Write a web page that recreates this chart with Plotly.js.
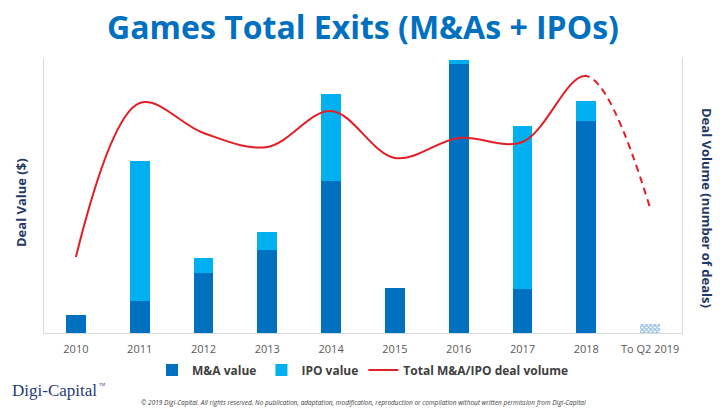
<!DOCTYPE html>
<html>
<head>
<meta charset="utf-8">
<script src="https://cdn.plot.ly/plotly-3.0.1.min.js"></script>
<style>
  html, body { margin: 0; padding: 0; background: #ffffff; }
  #chart { width: 726px; height: 409px; }
</style>
</head>
<body>
<div id="chart"></div>
<script>
// ---- data ----
var categories = ['2010', '2011', '2012', '2013', '2014', '2015', '2016', '2017', '2018', 'To Q2 2019'];
// deal value ($B, estimated)
var maValue  = [1.8, 3.2, 6.0, 8.3, 15.2, 4.5, 26.9, 4.4, 21.2, 0.9];
var ipoValue = [0,   14.0, 1.5, 1.8, 8.7,  0,   0.4, 16.3, 2.0, 0];
// total M&A/IPO deal volume (number of deals, estimated)
var dealVolume = [76, 230, 200, 186, 222, 175, 195, 191, 257, 125];
// the last (partial-year) period is drawn hatched / dashed
var partialCategory = 'To Q2 2019';
var dashFromCategory = '2018';

var seriesNames = ['M&A value', 'IPO value', 'Total M&A/IPO deal volume'];

// ---- styling ----
var C_MA = '#0070c0', C_IPO = '#00b0f0', C_LINE = '#e21f26';
var FONT = 'Open Sans, Noto Sans, sans-serif';

var patternShapes = categories.map(function (c) { return c === partialCategory ? 'x' : ''; });
var maColors = categories.map(function (c) { return c === partialCategory ? '#7fb0dc' : C_MA; });

var data = [
  {
    type: 'bar', name: seriesNames[0], x: categories, y: maValue,
    marker: {
      color: maColors, line: { width: 0 },
      pattern: { shape: patternShapes, fgcolor: '#3a80c4', bgcolor: '#8dbbe4', size: 3, solidity: 0.5 }
    },
    hoverinfo: 'skip'
  },
  {
    type: 'bar', name: seriesNames[1], x: categories, y: ipoValue,
    marker: { color: C_IPO, line: { width: 0 } },
    hoverinfo: 'skip'
  },
  {
    type: 'scatter', mode: 'lines', name: seriesNames[2], x: categories, y: dealVolume,
    yaxis: 'y2',
    line: { color: C_LINE, width: 2, shape: 'spline', smoothing: 1 },
    cliponaxis: false, hoverinfo: 'skip'
  }
];

var layout = {
  width: 726, height: 409,
  margin: { l: 44, r: 44, t: 58, b: 76 },
  paper_bgcolor: '#ffffff', plot_bgcolor: '#ffffff',
  font: { family: FONT, color: '#595959' },
  barmode: 'stack',
  bargap: 0.687,
  showlegend: true,
  title: {
    text: 'Games Total Exits (M&As + IPOs)',
    font: { family: FONT, size: 32, color: '#0070c0', weight: 700 },
    x: 0.5, xanchor: 'center', xref: 'container',
    y: 1 - 28 / 409, yanchor: 'middle', yref: 'container'
  },
  xaxis: {
    type: 'category',
    showline: true, linecolor: '#d9d9d9', linewidth: 1,
    showgrid: false, zeroline: false, ticks: '',
    ticklabelstandoff: 6,
    tickfont: { family: FONT, size: 11, color: '#595959' },
    fixedrange: true
  },
  yaxis: {
    range: [0, 27.5],
    showline: true, linecolor: '#d9d9d9', linewidth: 1,
    showgrid: false, zeroline: false, showticklabels: false, ticks: '',
    fixedrange: true
  },
  yaxis2: {
    range: [0, 275], overlaying: 'y', side: 'right',
    showline: true, linecolor: '#d9d9d9', linewidth: 1,
    showgrid: false, zeroline: false, showticklabels: false, ticks: '',
    fixedrange: true
  },
  legend: {
    orientation: 'h',
    x: 0.5, xanchor: 'center', xref: 'container',
    y: 1 - 370 / 409, yanchor: 'middle', yref: 'container',
    font: { family: FONT, size: 12, color: '#404040', weight: 700 },
    itemwidth: 30, traceorder: 'normal', tracegroupgap: 0,
    bgcolor: 'rgba(0,0,0,0)'
  },
  annotations: [
    {
      text: 'Deal Value ($)', xref: 'paper', yref: 'paper',
      x: (21 - 44) / 638, y: (333 - 203) / 275, xanchor: 'center', yanchor: 'middle',
      textangle: -90, showarrow: false,
      font: { family: FONT, size: 13, color: '#1f3864', weight: 700 }
    },
    {
      text: 'Deal Volume (number of deals)', xref: 'paper', yref: 'paper',
      x: (707 - 44) / 638, y: (333 - 208) / 275, xanchor: 'center', yanchor: 'middle',
      textangle: 90, showarrow: false,
      font: { family: FONT, size: 13, color: '#1f3864', weight: 700 }
    },
    {
      text: 'Digi-Capital', xref: 'paper', yref: 'paper',
      x: (10 - 44) / 638, y: (333 - 390) / 275, xanchor: 'left', yanchor: 'middle',
      showarrow: false,
      font: { family: 'Liberation Serif, DejaVu Serif, serif', size: 17, color: '#1f3b78' }
    },
    {
      text: 'TM', xref: 'paper', yref: 'paper',
      x: (97 - 44) / 638, y: (333 - 385) / 275, xanchor: 'left', yanchor: 'middle',
      showarrow: false,
      font: { family: 'Liberation Serif, DejaVu Serif, serif', size: 4, color: '#1f3b78' }
    },
    {
      text: '<i>© 2019 Digi-Capital. All rights reserved. No publication, adaptation, modification, reproduction or compilation without written permission from Digi-Capital</i>',
      xref: 'paper', yref: 'paper',
      x: (363 - 44) / 638, y: (333 - 402) / 275, xanchor: 'center', yanchor: 'middle',
      showarrow: false,
      font: { family: FONT, size: 6.5, color: '#404040' }
    }
  ]
};

var gd = document.getElementById('chart');
Plotly.newPlot(gd, data, layout, { staticPlot: true, displayModeBar: false }).then(function () {
  // Make the segment after the last full year dashed (partial-year projection)
  try {
    var path = gd.querySelector('.scatterlayer .trace path.js-line');
    var xa = gd._fullLayout.xaxis;
    var xStart = xa.l2p(categories.indexOf(dashFromCategory)) + 3;
    var total = path.getTotalLength();
    var lo = 0, hi = total;
    for (var k = 0; k < 40; k++) {
      var mid = (lo + hi) / 2;
      if (path.getPointAtLength(mid).x < xStart) lo = mid; else hi = mid;
    }
    var parts = [lo.toFixed(2) + 'px'];
    var s = lo, dashLen = 7, gapLen = 5;
    while (s < total + 20) {
      parts.push(gapLen + 'px'); parts.push(dashLen + 'px');
      s += gapLen + dashLen;
    }
    parts.push(gapLen + 'px');
    if (parts.length % 2 === 1) parts.push('1000px');
    Plotly.restyle(gd, { 'line.dash': parts.join(',') }, [2]);
  } catch (e) { /* leave solid */ }
});
</script>
</body>
</html>
